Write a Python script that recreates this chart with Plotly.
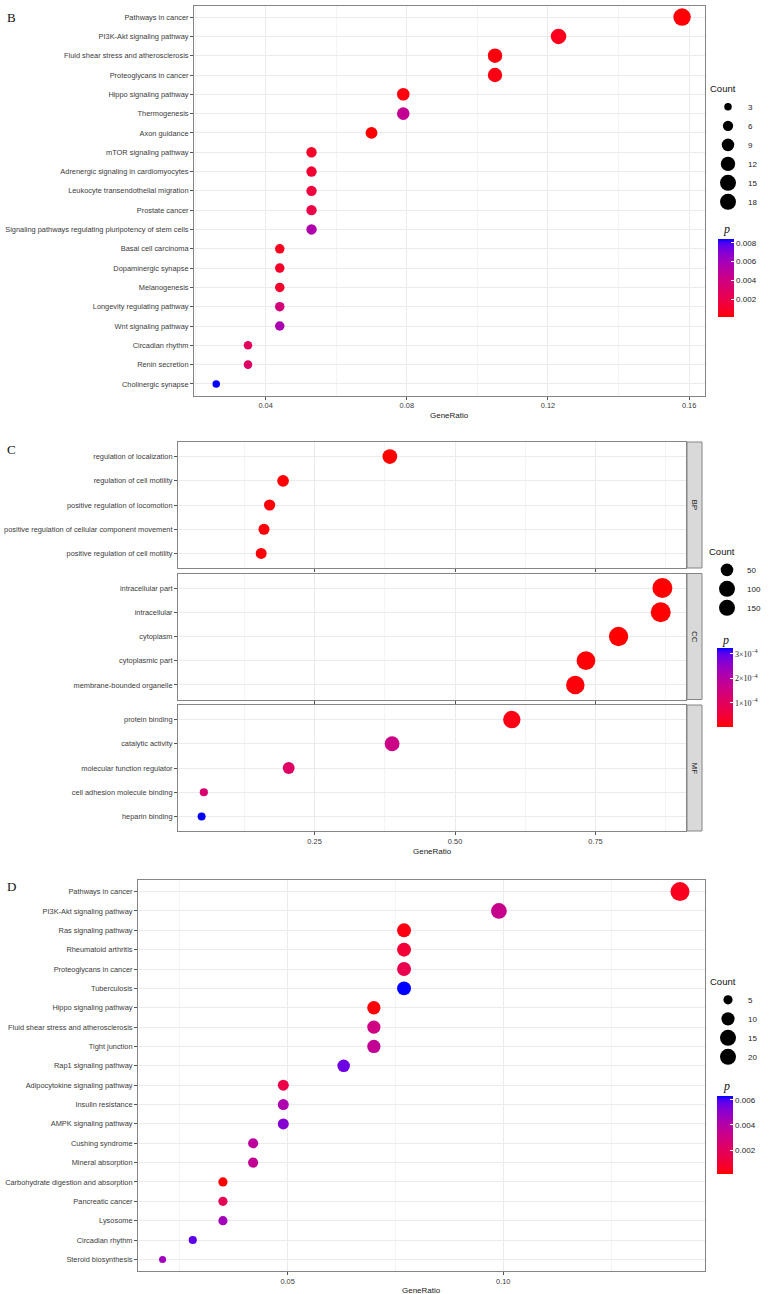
import math
import plotly.graph_objects as go

W, H = 771, 1294

# ---------------- Panel B ----------------
b_terms = ["Pathways in cancer", "PI3K-Akt signaling pathway", "Fluid shear stress and atherosclerosis",
           "Proteoglycans in cancer", "Hippo signaling pathway", "Thermogenesis", "Axon guidance",
           "mTOR signaling pathway", "Adrenergic signaling in cardiomyocytes",
           "Leukocyte transendothelial migration", "Prostate cancer",
           "Signaling pathways regulating pluripotency of stem cells", "Basal cell carcinoma",
           "Dopaminergic synapse", "Melanogenesis", "Longevity regulating pathway",
           "Wnt signaling pathway", "Circadian rhythm", "Renin secretion", "Cholinergic synapse"]
b_ratio = [0.158, 0.123, 0.105, 0.105, 0.079, 0.079, 0.070, 0.053, 0.053, 0.053,
           0.053, 0.053, 0.044, 0.044, 0.044, 0.044, 0.044, 0.035, 0.035, 0.026]
b_count = [18, 14, 12, 12, 9, 9, 8, 6, 6, 6, 6, 6, 5, 5, 5, 5, 5, 4, 4, 3]
b_p = [0.0002, 0.0006, 0.0003, 0.0004, 0.0003, 0.0046, 0.0001, 0.0009, 0.0012, 0.0015,
       0.0019, 0.0055, 0.0007, 0.0009, 0.0010, 0.0036, 0.0057, 0.0026, 0.0030, 0.0084]
b_xticks = [0.04, 0.08, 0.12, 0.16]
b_xtick_labels = ["0.04", "0.08", "0.12", "0.16"]
b_legend_counts = [3, 6, 9, 12, 15, 18]
b_cbar_ticks = [0.002, 0.004, 0.006, 0.008]
b_cbar_labels = ["0.002", "0.004", "0.006", "0.008"]

# ---------------- Panel C ----------------
c_bp_terms = ["regulation of localization", "regulation of cell motility",
              "positive regulation of locomotion",
              "positive regulation of cellular component movement",
              "positive regulation of cell motility"]
c_bp_ratio = [0.384, 0.194, 0.170, 0.160, 0.155]
c_bp_count = [79, 40, 35, 33, 32]
c_bp_p = [2e-6, 5e-6, 8e-6, 1e-5, 6e-6]

c_cc_terms = ["intracellular part", "intracellular", "cytoplasm", "cytoplasmic part",
              "membrane-bounded organelle"]
c_cc_ratio = [0.869, 0.866, 0.791, 0.733, 0.714]
c_cc_count = [179, 178, 163, 151, 147]
c_cc_p = [3e-6, 4e-6, 2e-6, 6e-6, 8e-6]

c_mf_terms = ["protein binding", "catalytic activity", "molecular function regulator",
              "cell adhesion molecule binding", "heparin binding"]
c_mf_ratio = [0.601, 0.388, 0.204, 0.053, 0.049]
c_mf_count = [124, 80, 42, 11, 10]
c_mf_p = [1.5e-5, 1.6e-4, 1.1e-4, 1.25e-4, 3.24e-4]

c_facets = ["BP", "CC", "MF"]
c_xticks = [0.25, 0.50, 0.75]
c_xtick_labels = ["0.25", "0.50", "0.75"]
c_legend_counts = [50, 100, 150]
c_cbar_ticks = [1e-4, 2e-4, 3e-4]
c_cbar_labels = ["1×10<sup>−4</sup>", "2×10<sup>−4</sup>", "3×10<sup>−4</sup>"]

# ---------------- Panel D ----------------
d_terms = ["Pathways in cancer", "PI3K-Akt signaling pathway", "Ras signaling pathway",
           "Rheumatoid arthritis", "Proteoglycans in cancer", "Tuberculosis",
           "Hippo signaling pathway", "Fluid shear stress and atherosclerosis", "Tight junction",
           "Rap1 signaling pathway", "Adipocytokine signaling pathway", "Insulin resistance",
           "AMPK signaling pathway", "Cushing syndrome", "Mineral absorption",
           "Carbohydrate digestion and absorption", "Pancreatic cancer", "Lysosome",
           "Circadian rhythm", "Steroid biosynthesis"]
d_ratio = [0.141, 0.099, 0.077, 0.077, 0.077, 0.077, 0.070, 0.070, 0.070, 0.063,
           0.049, 0.049, 0.049, 0.042, 0.042, 0.035, 0.035, 0.035, 0.028, 0.021]
d_count = [20, 14, 11, 11, 11, 11, 10, 10, 10, 9, 7, 7, 7, 6, 6, 5, 5, 5, 4, 3]
d_p = [0.0005, 0.0033, 0.0003, 0.0010, 0.0016, 0.0063, 0.0002, 0.0030, 0.0035, 0.0056,
       0.0014, 0.0042, 0.0052, 0.0037, 0.0035, 0.0001, 0.0018, 0.0045, 0.0058, 0.0046]
d_xticks = [0.05, 0.10]
d_xtick_labels = ["0.05", "0.10"]
d_legend_counts = [5, 10, 15, 20]
d_cbar_ticks = [0.002, 0.004, 0.006]
d_cbar_labels = ["0.002", "0.004", "0.006"]


# ---------------- helpers ----------------
def _lin(c):
    c = c / 255.0
    return c / 12.92 if c <= 0.04045 else ((c + 0.055) / 1.055) ** 2.4


def rgb2lab(rgb):
    R, G, B = (_lin(v) for v in rgb)
    X = (0.4124 * R + 0.3576 * G + 0.1805 * B) / 0.95047
    Y = 0.2126 * R + 0.7152 * G + 0.0722 * B
    Z = (0.0193 * R + 0.1192 * G + 0.9505 * B) / 1.08883
    f = lambda t: t ** (1 / 3) if t > 0.008856 else 7.787 * t + 16 / 116
    fx, fy, fz = f(X), f(Y), f(Z)
    return 116 * fy - 16, 500 * (fx - fy), 200 * (fy - fz)


def lab2rgb(lab):
    L, a, b = lab
    fy = (L + 16) / 116
    fx = fy + a / 500
    fz = fy - b / 200
    finv = lambda t: t ** 3 if t ** 3 > 0.008856 else (t - 16 / 116) / 7.787
    X, Y, Z = 0.95047 * finv(fx), finv(fy), 1.08883 * finv(fz)
    R = 3.2406 * X - 1.5372 * Y - 0.4986 * Z
    G = -0.9689 * X + 1.8758 * Y + 0.0415 * Z
    B = 0.0557 * X - 0.2040 * Y + 1.0570 * Z
    gam = lambda c: 12.92 * c if c <= 0.0031308 else 1.055 * c ** (1 / 2.4) - 0.055
    return tuple(int(round(255 * min(1, max(0, gam(c))))) for c in (R, G, B))


lo, hi = rgb2lab((255, 0, 0)), rgb2lab((0, 0, 255))
colorscale = []
for i in range(21):
    t = i / 20
    lab = tuple(lo[k] + (hi[k] - lo[k]) * t for k in range(3))
    colorscale.append([t, "rgb(%d,%d,%d)" % lab2rgb(lab)])


def size_fn(cmin, cmax, dmin, dmax):
    s0, s1 = math.sqrt(cmin), math.sqrt(cmax)
    return lambda c: dmin + (dmax - dmin) * (math.sqrt(c) - s0) / (s1 - s0)


def px(xp):
    return xp / W


def py(yp):
    return 1 - yp / H


FONT = "Liberation Sans, Arial, Helvetica, sans-serif"
SERIF = "Liberation Serif, Times New Roman, serif"
TICKFONT = dict(family=FONT, size=7.4, color="#3a3a3a")
GRID = "#EBEBEB"
MINOR = "#F4F4F4"
BORDER = "#858585"

fig = go.Figure()


def xaxis_cfg(domain, rng, ticks, labels, minor_dtick, show_labels=True):
    return dict(domain=domain, range=rng, tickmode="array", tickvals=ticks,
                ticktext=labels, automargin=False,
                showticklabels=show_labels, ticks="outside", ticklen=3, tickwidth=1,
                tickcolor="#555", showline=True, mirror=True, linecolor=BORDER, linewidth=1,
                showgrid=True, gridcolor=GRID, gridwidth=1, zeroline=False, tickfont=TICKFONT,
                minor=dict(showgrid=True, gridcolor=MINOR, gridwidth=0.6, dtick=minor_dtick,
                           tick0=0, ticks=""))


def yaxis_cfg(domain, terms, anchor):
    n = len(terms)
    return dict(domain=domain, type="category", categoryorder="array", categoryarray=terms,
                range=[n - 0.4, -0.6], ticks="outside", ticklen=3, tickwidth=1,
                automargin=False,
                tickcolor="#555", showline=True, mirror=True, linecolor=BORDER, linewidth=1,
                showgrid=True, gridcolor=GRID, gridwidth=1, zeroline=False, tickfont=TICKFONT,
                anchor=anchor)


# ---- Panel B traces ----
b_size = size_fn(min(b_count), max(b_count), 7.5, 17.5)
fig.add_trace(go.Scatter(x=b_ratio, y=b_terms, mode="markers", xaxis="x", yaxis="y",
                         marker=dict(size=[b_size(c) for c in b_count], color=b_p,
                                     coloraxis="coloraxis", line=dict(width=0), opacity=1),
                         showlegend=False, hoverinfo="skip"))
for c in b_legend_counts:
    fig.add_trace(go.Scatter(x=[None], y=[None], mode="markers", xaxis="x", yaxis="y",
                             marker=dict(size=b_size(c), color="black", opacity=1), name=str(c),
                             legend="legend", showlegend=True))

# ---- Panel C traces ----
c_all = c_bp_count + c_cc_count + c_mf_count
c_size = size_fn(min(c_all), max(c_all), 8, 20)
c_sets = [(c_bp_terms, c_bp_ratio, c_bp_count, c_bp_p),
          (c_cc_terms, c_cc_ratio, c_cc_count, c_cc_p),
          (c_mf_terms, c_mf_ratio, c_mf_count, c_mf_p)]
for i, (terms, ratio, count, pv) in enumerate(c_sets):
    k = i + 2
    fig.add_trace(go.Scatter(x=ratio, y=terms, mode="markers", xaxis="x%d" % k,
                             yaxis="y%d" % k,
                             marker=dict(size=[c_size(c) for c in count], color=pv,
                                         coloraxis="coloraxis2", line=dict(width=0), opacity=1),
                             showlegend=False, hoverinfo="skip"))
for c in c_legend_counts:
    fig.add_trace(go.Scatter(x=[None], y=[None], mode="markers", xaxis="x2", yaxis="y2",
                             marker=dict(size=c_size(c), color="black", opacity=1), name=str(c),
                             legend="legend2", showlegend=True))

# ---- Panel D traces ----
d_size = size_fn(min(d_count), max(d_count), 7, 19)
fig.add_trace(go.Scatter(x=d_ratio, y=d_terms, mode="markers", xaxis="x5", yaxis="y5",
                         marker=dict(size=[d_size(c) for c in d_count], color=d_p,
                                     coloraxis="coloraxis3", line=dict(width=0), opacity=1),
                         showlegend=False, hoverinfo="skip"))
for c in d_legend_counts:
    fig.add_trace(go.Scatter(x=[None], y=[None], mode="markers", xaxis="x5", yaxis="y5",
                             marker=dict(size=d_size(c), color="black", opacity=1), name=str(c),
                             legend="legend3", showlegend=True))

# ---- axes ----
b_xd = [px(194), px(705)]
c_xd = [px(178), px(686)]
d_xd = [px(138), px(705)]
c_rows = [(442, 568), (573.5, 699.5), (705, 831)]

layout = dict(
    width=W, height=H, margin=dict(l=0, r=0, t=0, b=0, autoexpand=False),
    paper_bgcolor="white", plot_bgcolor="white",
    font=dict(family=FONT, size=8, color="#222"),
    xaxis=xaxis_cfg(b_xd, [0.0197, 0.1645], b_xticks, b_xtick_labels, 0.02),
    yaxis=yaxis_cfg([py(395.5), py(5.5)], b_terms, "x"),
    xaxis2=xaxis_cfg(c_xd, [0.007, 0.911], c_xticks, c_xtick_labels, 0.125, False),
    yaxis2=yaxis_cfg([py(c_rows[0][1]), py(c_rows[0][0])], c_bp_terms, "x2"),
    xaxis3=xaxis_cfg(c_xd, [0.007, 0.911], c_xticks, c_xtick_labels, 0.125, False),
    yaxis3=yaxis_cfg([py(c_rows[1][1]), py(c_rows[1][0])], c_cc_terms, "x3"),
    xaxis4=xaxis_cfg(c_xd, [0.007, 0.911], c_xticks, c_xtick_labels, 0.125, True),
    yaxis4=yaxis_cfg([py(c_rows[2][1]), py(c_rows[2][0])], c_mf_terms, "x4"),
    xaxis5=xaxis_cfg(d_xd, [0.0153, 0.1468], d_xticks, d_xtick_labels, 0.025),
    yaxis5=yaxis_cfg([py(1271), py(880)], d_terms, "x5"),
)
layout["xaxis"]["anchor"] = "y"
layout["xaxis2"]["anchor"] = "y2"
layout["xaxis3"]["anchor"] = "y3"
layout["xaxis4"]["anchor"] = "y4"
layout["xaxis5"]["anchor"] = "y5"


def cbar(x0, ytop, length, ticks, labels, serif=False):
    return dict(x=px(x0), xanchor="left", xpad=0, y=py(ytop), yanchor="top", ypad=0,
                len=length, lenmode="pixels", thickness=16, outlinewidth=0,
                tickmode="array", tickvals=ticks, ticktext=labels, ticks="inside",
                ticklen=3, tickwidth=1, tickcolor="white",
                tickfont=dict(family=SERIF if serif else FONT, size=8, color="#222"))


layout["coloraxis"] = dict(colorscale=colorscale, cmin=min(b_p), cmax=max(b_p),
                           colorbar=cbar(718, 239, 78, b_cbar_ticks, b_cbar_labels))
layout["coloraxis2"] = dict(colorscale=colorscale, cmin=min(c_bp_p + c_cc_p + c_mf_p),
                            cmax=max(c_bp_p + c_cc_p + c_mf_p),
                            colorbar=cbar(717, 648, 79, c_cbar_ticks, c_cbar_labels, True))
layout["coloraxis3"] = dict(colorscale=colorscale, cmin=min(d_p), cmax=max(d_p),
                            colorbar=cbar(717, 1096, 78, d_cbar_ticks, d_cbar_labels))


def legend_cfg(xleft, ytop):
    return dict(x=px(xleft), xanchor="left", y=py(ytop), yanchor="top",
                title=dict(text="Count", font=dict(family=FONT, size=9.5, color="#111")),
                font=dict(family=FONT, size=8, color="#222"), bgcolor="rgba(0,0,0,0)",
                itemsizing="trace", tracegroupgap=0, borderwidth=0)


layout["legend"] = legend_cfg(708, 80)
layout["legend2"] = legend_cfg(707, 543)
layout["legend3"] = legend_cfg(708, 973)

annotations = []
# panel letters
for letter, (lx, ly) in {"B": (11, 17), "C": (11, 449), "D": (11, 886)}.items():
    annotations.append(dict(text=letter, x=px(lx), y=py(ly), xref="paper", yref="paper",
                            showarrow=False, xanchor="center", yanchor="middle",
                            font=dict(family=SERIF, size=13, color="#111")))
# axis titles
for (cx, cy) in [(449.5, 415), (432, 851), (421.5, 1290)]:
    annotations.append(dict(text="GeneRatio", x=px(cx), y=py(cy), xref="paper", yref="paper",
                            showarrow=False, xanchor="center", yanchor="middle",
                            font=dict(family=FONT, size=8, color="#222")))
# colour legend titles
for (cx, cy) in [(726, 229), (725, 640), (726, 1086)]:
    annotations.append(dict(text="<i>p</i>", x=px(cx), y=py(cy), xref="paper", yref="paper",
                            showarrow=False, xanchor="center", yanchor="middle",
                            font=dict(family=SERIF, size=12, color="#111")))

shapes = []
for i, lab in enumerate(c_facets):
    k = i + 2
    shapes.append(dict(type="rect", xref="paper", yref="y%d domain" % k,
                       x0=px(687), x1=px(702), y0=0, y1=1, fillcolor="#D9D9D9",
                       line=dict(color=BORDER, width=1), layer="above"))
    annotations.append(dict(text=lab, xref="paper", yref="y%d domain" % k, x=px(694.5), y=0.5,
                            showarrow=False, textangle=90, xanchor="center", yanchor="middle",
                            font=dict(family=FONT, size=8, color="#222")))

layout["annotations"] = annotations
layout["shapes"] = shapes
fig.update_layout(**layout)

fig.write_html("out.html")
